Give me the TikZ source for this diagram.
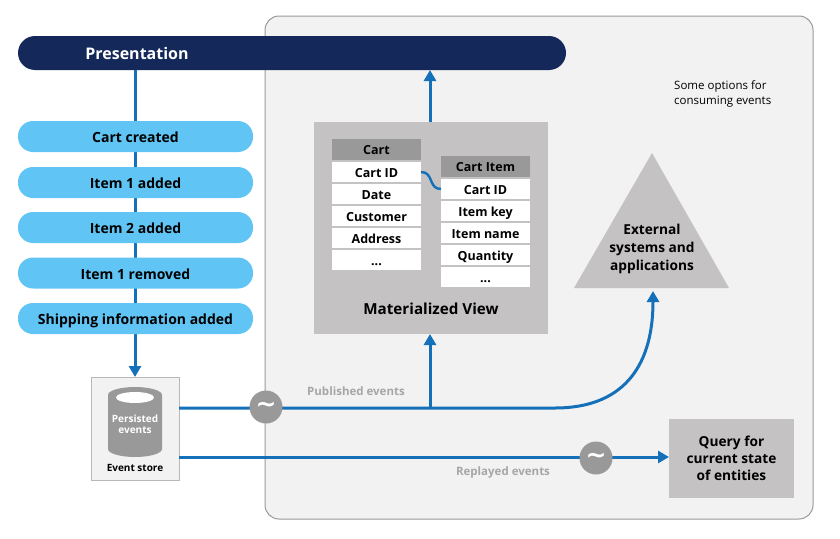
\documentclass[tikz,border=0pt]{standalone}
\usepackage{fontspec}
\setmainfont{Open Sans}
\newfontfamily\wavefont{DejaVu Sans}
\usetikzlibrary{arrows.meta,calc}
\definecolor{navy}{HTML}{14285A}
\definecolor{sky}{HTML}{60C5F5}
\definecolor{flow}{HTML}{1570BA}
\definecolor{panel}{HTML}{F2F2F2}
\definecolor{panelline}{HTML}{999999}
\definecolor{mv}{HTML}{C4C2C3}
\definecolor{hdr}{HTML}{999999}
\definecolor{lbl}{HTML}{A6A6A6}
\tikzset{
  x=1pt,y=-1pt,
  pill/.style={fill=sky,rounded corners=15pt,minimum width=235pt,minimum height=31pt,inner sep=0pt,outer sep=0pt,text height=12pt,text depth=0pt,font=\fontsize{14}{16}\selectfont\bfseries,text=black},
  hcell/.style={fill=hdr,minimum width=89pt,minimum height=21pt,inner sep=0pt,outer sep=0pt,text height=10pt,text depth=0pt,font=\fontsize{12.5}{14}\selectfont\bfseries},
  cell/.style={fill=white,minimum width=89pt,minimum height=20pt,inner sep=0pt,outer sep=0pt,text height=10pt,text depth=0pt,font=\fontsize{12.5}{14}\selectfont\bfseries},
  flowline/.style={draw=flow,line width=3pt},
  flowarrow/.style={flowline,-{Triangle[length=11pt,width=12pt]}},
  wave/.style={circle,fill=panelline,minimum size=33pt,inner sep=0pt,outer sep=0pt,text=white,font=\wavefont\fontsize{25}{25}\selectfont\bfseries},
  evlabel/.style={inner sep=0pt,text=lbl,font=\fontsize{11.5}{14}\selectfont\bfseries},
  graybox/.style={fill=mv,inner sep=0pt,outer sep=0pt},
}
\begin{document}
\begin{tikzpicture}
\useasboundingbox (0,0) rectangle (840,538);
\node[draw=panelline,line width=1pt,fill=panel,rounded corners=14pt,minimum width=548pt,minimum height=503pt,inner sep=0pt,outer sep=0pt] (panel) at (539,267.5) {};
\node[graybox,minimum width=234pt,minimum height=212pt] (mview) at (431,228) {};
\node[fill=navy,rounded corners=17pt,minimum width=548pt,minimum height=34pt,inner sep=0pt,outer sep=0pt] (pres) at (292,53) {};
\node[inner sep=0pt,text=white,font=\fontsize{16}{18}\selectfont\bfseries] (prestext) at (137,53) {Presentation};
\node[draw=panelline!70,fill=panel,line width=1pt,minimum width=88pt,minimum height=103pt,inner sep=0pt,outer sep=0pt] (store) at (135,428.5) {};
\coordinate (trunk) at (135,70);
\draw[flowarrow] (trunk) -- (store.north);
\node[pill] (p1) at (135.5,136.5) {Cart created};
\node[pill] (p2) at (135.5,182.5) {Item 1 added};
\node[pill] (p3) at (135.5,227.5) {Item 2 added};
\node[pill] (p4) at (135.5,273) {Item 1 removed};
\node[pill] (p5) at (135.5,318.5) {Shipping information added};
% cylinder
\fill[hdr] (108,395) arc[start angle=180,end angle=0,x radius=27,y radius=-8] -- (162,449) arc[start angle=0,end angle=-180,x radius=27,y radius=-8] -- cycle;
\fill[white] (135,397.5) ellipse[x radius=19,y radius=5.5];
\node[inner sep=0pt,align=center,text=white,font=\fontsize{10}{11.5}\selectfont\bfseries] (persisted) at (135,424) {Persisted\\events};
\node[inner sep=0pt,font=\fontsize{10}{12}\selectfont\bfseries] (storelabel) at (135,467.5) {Event store};
% tables
\node[hcell] (c0) at (376.5,149.5) {Cart};
\node[cell] (c1) at (376.5,172) {Cart ID};
\node[cell] (c2) at (376.5,194) {Date};
\node[cell] (c3) at (376.5,216) {Customer};
\node[cell] (c4) at (376.5,238) {Address};
\node[cell] (c5) at (376.5,260) {...};
\node[hcell] (i0) at (485.5,166.5) {Cart Item};
\node[cell] (i1) at (485.5,189) {Cart ID};
\node[cell] (i2) at (485.5,211) {Item key};
\node[cell] (i3) at (485.5,233) {Item name};
\node[cell] (i4) at (485.5,255) {Quantity};
\node[cell] (i5) at (485.5,277) {...};
\draw[draw=flow,line width=2.4pt] (c1.east) .. controls (434,172) and (428,189) .. (i1.west);
\node[inner sep=0pt,font=\fontsize{15.2}{17}\selectfont\bfseries] (mvtext) at (431,309) {Materialized View};
% triangle
\fill[mv] (652,153) -- (729,288) -- (574,288) -- cycle;
\node[inner sep=0pt,align=center,font=\fontsize{13.7}{18}\selectfont\bfseries] (ext) at (652,248.5) {External\\systems and\\applications};
% query
\node[graybox,minimum width=125pt,minimum height=79pt,align=center,font=\fontsize{13.7}{17}\selectfont\bfseries] (query) at (731.5,458.5) {Query for\\current state\\of entities};
% note
\node[inner sep=0pt,align=left,anchor=north west,font=\fontsize{11.5}{15}\selectfont] (note) at (674,80) {Some options for\\consuming events};
% flows
\coordinate (pubStart) at (179,408);
\coordinate (branch) at (430,408);
\coordinate (repStart) at (179,457);
\coordinate (extTip) at (653,291);
\draw[flowarrow] (pubStart) -- (branch) -- (555,408) .. controls (620,408) and (653,370) .. (extTip);
\draw[flowarrow] (branch) -- (branch |- mview.south);
\draw[flowarrow] (branch |- mview.north) -- (branch |- pres.south);
\draw[flowarrow] (repStart) -- (repStart -| query.west);
\node[wave] (w1) at (266,407) {\char"007E};
\node[wave] (w2) at (596,458) {\char"007E};
\node[evlabel] (pub) at (356,391) {Published events};
\node[evlabel] (rep) at (503,473) {Replayed events};
\end{tikzpicture}
\end{document}
